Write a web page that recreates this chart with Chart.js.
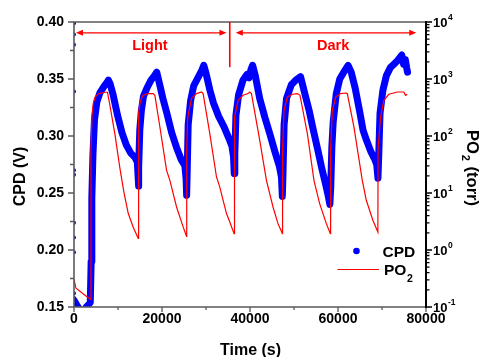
<!DOCTYPE html>
<html><head><meta charset="utf-8">
<script src="https://cdn.jsdelivr.net/npm/chart.js@4.4.0/dist/chart.umd.min.js"></script>
<style>html,body{margin:0;padding:0;background:#fff;}#wrap{width:482px;height:357px;position:relative;}</style>
</head><body><div id="wrap"><canvas id="c"></canvas></div>
<script>
// ---- data ----
const cpdTime = [
  0,600,1400,2200,2800,3300,3700,3900,4050,4300,4650,5200,5900,6900,7500,7800,
  8200,8900,9900,10900,11900,12900,13900,14400,14550,14630,
  14750,14950,15300,15800,16700,17500,18300,18800,
  19300,20200,21100,22200,23300,24400,25200,25480,25600,
  25720,25950,26500,27200,28300,29100,29500,
  30000,30900,31700,32900,34100,35200,35900,36250,36420,
  36550,36800,37400,38400,39300,39800,40200,40600,
  41200,42200,43400,44500,45600,46700,47150,47350,
  47500,47750,48300,49400,50400,51500,
  52400,53400,54400,55400,56300,57100,57700,58150,
  58350,58600,58900,59600,60400,61300,62300,
  63000,63900,64900,65700,66500,67500,68300,68800,69080,
  69250,69550,70200,71000,71900,72700,73500,74100,74500,74900,75300,75600,75800
];
const cpdValue = [
  0.156,0.152,0.147,0.146,0.150,0.152,0.154,0.190,0.245,0.283,0.314,0.330,0.338,0.344,0.347,0.349,
  0.346,0.336,0.318,0.303,0.292,0.285,0.281,0.277,0.266,0.256,
  0.272,0.305,0.322,0.335,0.343,0.349,0.353,0.356,
  0.348,0.333,0.320,0.303,0.290,0.279,0.274,0.262,0.248,
  0.268,0.310,0.331,0.344,0.352,0.358,0.362,
  0.355,0.340,0.329,0.317,0.308,0.298,0.291,0.282,0.267,
  0.284,0.318,0.336,0.349,0.354,0.351,0.358,0.362,
  0.353,0.333,0.316,0.302,0.287,0.273,0.264,0.247,
  0.268,0.310,0.333,0.345,0.349,0.352,
  0.338,0.323,0.305,0.288,0.272,0.259,0.249,0.240,
  0.255,0.290,0.312,0.337,0.350,0.356,0.362,
  0.356,0.342,0.322,0.305,0.296,0.286,0.280,0.275,0.263,
  0.282,0.320,0.340,0.353,0.360,0.363,0.366,0.369,0.371,0.363,0.367,0.360,0.356
];
// scattered CPD readings recorded at t = 0
const cpdStartTime = [0,0,0,0,0,0,0,0,0,0,0];
const cpdStartValue = [0.399,0.389,0.380,0.339,0.270,0.266,0.224,0.211,0.198,0.162,0.158];

const po2Time = [
  0,450,3520,3745,
  3858,4085,4380,4766,5379,5900,7035,7603,
  8170,9305,10440,11350,12323,13458,14593,
  14620,14750,14980,15320,15730,16860,18000,
  18380,19520,21040,21790,23310,24800,25580,
  25620,25800,25940,26710,27850,28980,
  29345,30865,32385,33135,34655,35405,36380,
  36420,36540,37290,38420,39560,39945,
  40330,42215,43735,45230,46365,47365,
  47400,47730,48500,49635,50770,
  51360,53040,54535,55830,57350,58260,
  58320,58710,59460,60595,61730,
  62115,63615,65520,66430,67925,69060,
  69110,69670,70420,71560,73465,74960,
  75345,75730
];
const po2Value = [
  0.306,0.213,0.140,0.136,
  56,231,375,478,539,561,585,585,
  346,107,27.1,10.3,4.41,2.50,1.60,
  60,250,370,458,518,555,555,
  518,144,25,16.7,5.68,2.54,1.74,
  60,180,230,453,555,591,
  555,110,19.1,12.7,4.36,3.10,1.94,
  60,215,423,518,555,591,
  555,84,16.7,5.68,2.90,1.94,
  60,282,483,540,555,
  518,110,16.7,6.52,2.90,1.94,
  60,282,483,555,568,
  555,144,16.7,7.45,3.32,2.07,
  60,215,423,540,591,591,
  518,540
];

const cpdTicks = [0.15, 0.20, 0.25, 0.30, 0.35, 0.40];
const timeTicks = [0, 20000, 40000, 60000, 80000];
const po2Exponents = [-1, 0, 1, 2, 3, 4];
const seriesNames = ['CPD', 'PO'];
const axisTitles = { x: 'Time (s)', y: 'CPD (V)', yr: 'PO', yrSub: '2', yrRest: ' (torr)' };

// period annotations (data coordinates)
const periodNames = ['Light', 'Dark'];
const periodSpans = [[450, 34650], [36770, 77780]];
const periodLabelTime = [17250, 58900];
const periodDividerTime = 35400;
const periodArrowLevel = 0.3905;
const periodDividerLow = 0.3604;
const periodLabelLevel = 0.3752;

// ---- chart ----
const FONT = "'Liberation Sans', Arial, Helvetica, sans-serif";
const RED = '#ff0000', BLUE = '#0000ff';

const deco = {
  id: 'deco',
  afterDatasetsDraw(chart) {
    const ctx = chart.ctx, xs = chart.scales.x, ys = chart.scales.y, yr = chart.scales.yr, a = chart.chartArea;
    ctx.save();
    // frame
    ctx.lineWidth = 1.6; ctx.strokeStyle = '#5a5a5a';
    ctx.beginPath();
    ctx.moveTo(a.left, a.bottom); ctx.lineTo(a.left, a.top); ctx.lineTo(a.right, a.top);
    ctx.moveTo(a.left, a.bottom); ctx.lineTo(a.right, a.bottom);
    ctx.stroke();
    // left ticks
    ctx.lineWidth = 1.3;
    ctx.beginPath();
    for (let i = 0; i < cpdTicks.length; i++) {
      const p = ys.getPixelForValue(cpdTicks[i]);
      ctx.moveTo(a.left - 6, p); ctx.lineTo(a.left, p);
      if (i < cpdTicks.length - 1) {
        const m = ys.getPixelForValue((cpdTicks[i] + cpdTicks[i + 1]) / 2);
        ctx.moveTo(a.left - 4, m); ctx.lineTo(a.left, m);
      }
    }
    for (let i = 0; i < timeTicks.length; i++) {
      const p = xs.getPixelForValue(timeTicks[i]);
      ctx.moveTo(p, a.bottom); ctx.lineTo(p, a.bottom + 5);
      if (i < timeTicks.length - 1) {
        const m = xs.getPixelForValue((timeTicks[i] + timeTicks[i + 1]) / 2);
        ctx.moveTo(m, a.bottom); ctx.lineTo(m, a.bottom + 3);
      }
    }
    ctx.stroke();
    // right axis
    ctx.strokeStyle = '#000'; ctx.lineWidth = 2;
    ctx.beginPath(); ctx.moveTo(a.right, a.top - 1); ctx.lineTo(a.right, a.bottom + 1); ctx.stroke();
    ctx.lineWidth = 1.3;
    ctx.beginPath();
    for (let i = 0; i < po2Exponents.length; i++) {
      const e = po2Exponents[i];
      const p = yr.getPixelForValue(Math.pow(10, e));
      ctx.moveTo(a.right, p); ctx.lineTo(a.right + 6, p);
      if (i < po2Exponents.length - 1) {
        for (let k = 2; k <= 9; k++) {
          const m = yr.getPixelForValue(k * Math.pow(10, e));
          ctx.moveTo(a.right, m); ctx.lineTo(a.right + 3.5, m);
        }
      }
    }
    ctx.stroke();
    // right tick labels
    ctx.fillStyle = '#000';
    for (const e of po2Exponents) {
      const p = yr.getPixelForValue(Math.pow(10, e));
      ctx.font = `bold 13px ${FONT}`;
      ctx.textAlign = 'left'; ctx.textBaseline = 'alphabetic';
      ctx.fillText('10', a.right + 7, p + 4.8);
      const w = ctx.measureText('10').width;
      ctx.font = `bold 8.5px ${FONT}`;
      ctx.fillText(String(e), a.right + 7 + w + 0.5, p - 2.3);
    }
    // axis titles
    ctx.font = `bold 16px ${FONT}`;
    ctx.textAlign = 'center'; ctx.textBaseline = 'alphabetic';
    ctx.fillText(axisTitles.x, (a.left + a.right) / 2 + 0.5, 354.5);
    ctx.save();
    ctx.translate(25, 176.5); ctx.rotate(-Math.PI / 2);
    ctx.fillText(axisTitles.y, 0, 0);
    ctx.restore();
    // right title with subscript
    ctx.save();
    ctx.translate(466.5, 168); ctx.rotate(Math.PI / 2);
    ctx.font = `bold 16.5px ${FONT}`;
    const w1 = ctx.measureText(axisTitles.yr).width;
    const w3 = ctx.measureText(axisTitles.yrRest).width;
    ctx.font = `bold 11px ${FONT}`;
    const w2 = ctx.measureText(axisTitles.yrSub).width;
    let sx = -(w1 + w2 + w3 + 2) / 2;
    ctx.textAlign = 'left';
    ctx.font = `bold 16.5px ${FONT}`;
    ctx.fillText(axisTitles.yr, sx, 0);
    ctx.font = `bold 11px ${FONT}`;
    ctx.fillText(axisTitles.yrSub, sx + w1 + 1, 5);
    ctx.font = `bold 16.5px ${FONT}`;
    ctx.fillText(axisTitles.yrRest, sx + w1 + w2 + 2, 0);
    ctx.restore();
    // period annotations
    ctx.strokeStyle = RED; ctx.fillStyle = RED; ctx.lineWidth = 1.4;
    const ay = ys.getPixelForValue(periodArrowLevel);
    for (let i = 0; i < periodSpans.length; i++) {
      const x1 = xs.getPixelForValue(periodSpans[i][0]);
      const x2 = xs.getPixelForValue(periodSpans[i][1]);
      ctx.beginPath(); ctx.moveTo(x1 + 4, ay); ctx.lineTo(x2 - 4, ay); ctx.stroke();
      ctx.beginPath();
      ctx.moveTo(x1, ay); ctx.lineTo(x1 + 7, ay - 3); ctx.lineTo(x1 + 7, ay + 3); ctx.closePath();
      ctx.moveTo(x2, ay); ctx.lineTo(x2 - 7, ay - 3); ctx.lineTo(x2 - 7, ay + 3); ctx.closePath();
      ctx.fill();
      ctx.font = `bold 14.5px ${FONT}`;
      ctx.textAlign = 'center'; ctx.textBaseline = 'alphabetic';
      ctx.fillText(periodNames[i], xs.getPixelForValue(periodLabelTime[i]), ys.getPixelForValue(periodLabelLevel));
    }
    const dx = xs.getPixelForValue(periodDividerTime);
    ctx.lineWidth = 1.6;
    ctx.beginPath(); ctx.moveTo(dx, a.top); ctx.lineTo(dx, ys.getPixelForValue(periodDividerLow)); ctx.stroke();
    // legend
    const lx = a.right - 69.5, ly = a.bottom - 56;
    ctx.fillStyle = BLUE;
    ctx.beginPath(); ctx.arc(lx, ly, 3.3, 0, Math.PI * 2); ctx.fill();
    ctx.strokeStyle = RED; ctx.lineWidth = 1.2;
    ctx.beginPath(); ctx.moveTo(a.right - 88.5, ly + 18.5); ctx.lineTo(a.right - 47, ly + 18.5); ctx.stroke();
    ctx.fillStyle = '#000';
    ctx.textAlign = 'left'; ctx.textBaseline = 'alphabetic';
    ctx.font = `bold 15.5px ${FONT}`;
    ctx.fillText(seriesNames[0], a.right - 43.5, ly + 6.3);
    ctx.fillText(seriesNames[1], a.right - 42, ly + 24.2);
    const wp = ctx.measureText(seriesNames[1]).width;
    ctx.font = `bold 10.5px ${FONT}`;
    ctx.fillText('2', a.right - 42 + wp + 0.5, ly + 30.5);
    ctx.restore();
  }
};

new Chart(document.getElementById('c'), {
  type: 'line',
  data: {
    datasets: [
      {
        label: 'PO2', yAxisID: 'yr', order: 1,
        data: po2Time.map((t, i) => ({ x: t, y: po2Value[i] })),
        borderColor: RED, borderWidth: 1.2, pointRadius: 0, tension: 0, fill: false
      },
      {
        label: 'CPD', yAxisID: 'y', order: 2,
        data: cpdTime.map((t, i) => ({ x: t, y: cpdValue[i] })),
        borderColor: BLUE, borderWidth: 7, pointRadius: 0, tension: 0,
        borderJoinStyle: 'round', borderCapStyle: 'round', fill: false
      },
      {
        label: 'CPD start', yAxisID: 'y', order: 3, showLine: false,
        data: cpdStartTime.map((t, i) => ({ x: t, y: cpdStartValue[i] })),
        pointRadius: 2, pointBackgroundColor: BLUE, pointBorderWidth: 0, borderColor: BLUE
      }
    ]
  },
  options: {
    animation: false, responsive: true, maintainAspectRatio: false, devicePixelRatio: 1,
    layout: { padding: { top: 22, left: 0, right: 0, bottom: 0 } },
    plugins: { legend: { display: false }, tooltip: { enabled: false } },
    scales: {
      x: {
        type: 'linear', min: 0, max: 80000,
        afterFit: s => { s.height = 50; },
        grid: { drawOnChartArea: false, drawTicks: false }, border: { display: false },
        afterBuildTicks: s => { s.ticks = timeTicks.map(v => ({ value: v })); },
        ticks: { color: '#000', font: { family: FONT, size: 14, weight: 'bold' }, padding: 4, maxRotation: 0,
                 callback: v => String(v) }
      },
      y: {
        type: 'linear', position: 'left', min: 0.15, max: 0.40,
        afterFit: s => { s.width = 74; },
        grid: { drawOnChartArea: false, drawTicks: false }, border: { display: false },
        afterBuildTicks: s => { s.ticks = cpdTicks.map(v => ({ value: v })); },
        ticks: { color: '#000', font: { family: FONT, size: 14, weight: 'bold' }, padding: 10,
                 callback: v => Number(v).toFixed(2) }
      },
      yr: {
        type: 'logarithmic', position: 'right', min: 0.1, max: 10000,
        afterFit: s => { s.width = 56; },
        grid: { display: false }, border: { display: false },
        ticks: { display: false }
      }
    }
  },
  plugins: [deco]
});
</script>
</body></html>
